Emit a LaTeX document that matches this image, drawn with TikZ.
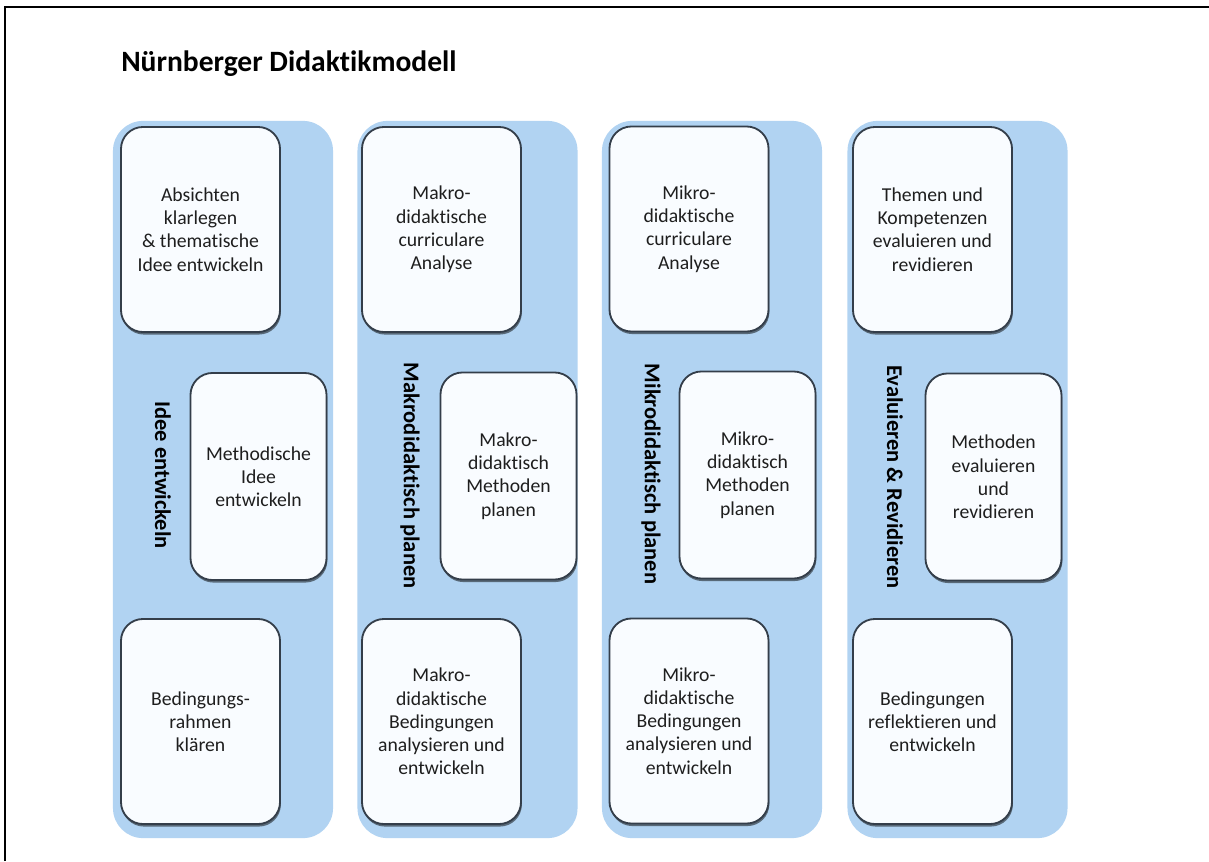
\documentclass[tikz,border=0pt]{standalone}
\usepackage{fontspec}
\setmainfont{Carlito}[Ligatures=NoCommon]
\usetikzlibrary{shadows}
\definecolor{colblue}{RGB}{177,211,242}
\definecolor{boxline}{RGB}{52,62,74}
\definecolor{boxfill}{RGB}{249,252,255}
\definecolor{txt}{RGB}{30,30,30}
\tikzset{
  column/.style={fill=colblue, draw=none, rounded corners=0.75cm, minimum width=5.5cm, minimum height=17.925cm, inner sep=0pt},
  card/.style={draw=boxline, line width=1.3pt, fill=boxfill, rounded corners=0.55cm, align=center,
    inner sep=0pt, text=txt, font=\fontsize{14}{16.5}\selectfont,
    drop shadow={shadow xshift=0.6pt, shadow yshift=-1.8pt, opacity=0.5, fill=black}},
  outer/.style={card, minimum width=3.975cm, minimum height=5.125cm},
  inner/.style={card, minimum width=3.4cm, minimum height=5.175cm},
  vlabel/.style={rotate=-90, font=\fontsize{16}{18}\selectfont\bfseries, text=black, inner sep=0pt},
  title/.style={anchor=base west, font=\fontsize{21}{24}\selectfont\bfseries, inner sep=0pt}
}
\begin{document}
\begin{tikzpicture}[x=0.025cm, y=-0.025cm]
\useasboundingbox (0,0) rectangle (1209,861);
\fill[white] (0,0) rectangle (1209,861);
\draw[line width=1.2pt] (5,861) -- (5,7) -- (1209,7);

\node[title] (title) at (121,71) {Nürnberger Didaktikmodell};

\node[column] (c1) at (223,479.5) {};
\node[column] (c2) at (467.5,479.5) {};
\node[column] (c3) at (712,479.5) {};
\node[column] (c4) at (957.5,479.5) {};

\node[vlabel] (l1) at (163,475) {Idee entwickeln};
\node[vlabel] (l2) at (410,475.5) {Makrodidaktisch planen};
\node[vlabel] (l3) at (651,474) {Mikrodidaktisch planen};
\node[vlabel] (l4) at (895,477) {Evaluieren \& Revidieren};

\node[outer] (a1) at (200.5,229.5) {Absichten\\klarlegen\\\& thematische\\Idee entwickeln};
\node[inner] (a2) at (258.5,476.5) {Methodische\\Idee\\entwickeln};
\node[outer] (a3) at (200.5,721.5) {Bedingungs-\\rahmen\\klären};

\node[outer] (b1) at (441.5,229.5) {Makro-\\didaktische\\curriculare\\Analyse};
\node[inner] (b2) at (508.5,476) {Makro-\\didaktisch\\Methoden\\planen};
\node[outer] (b3) at (441.5,721.5) {Makro-\\didaktische\\Bedingungen\\analysieren und\\entwickeln};

\node[outer] (d1) at (689,229) {Mikro-\\didaktische\\curriculare\\Analyse};
\node[inner] (d2) at (747.5,475) {Mikro-\\didaktisch\\Methoden\\planen};
\node[outer] (d3) at (689,721) {Mikro-\\didaktische\\Bedingungen\\analysieren und\\entwickeln};

\node[outer] (e1) at (932.5,229.5) {Themen und\\Kompetenzen\\evaluieren und\\revidieren};
\node[inner] (e2) at (993.5,477) {Methoden\\evaluieren\\und\\revidieren};
\node[outer] (e3) at (932.5,721.5) {Bedingungen\\reflektieren und\\entwickeln};
\end{tikzpicture}
\end{document}
